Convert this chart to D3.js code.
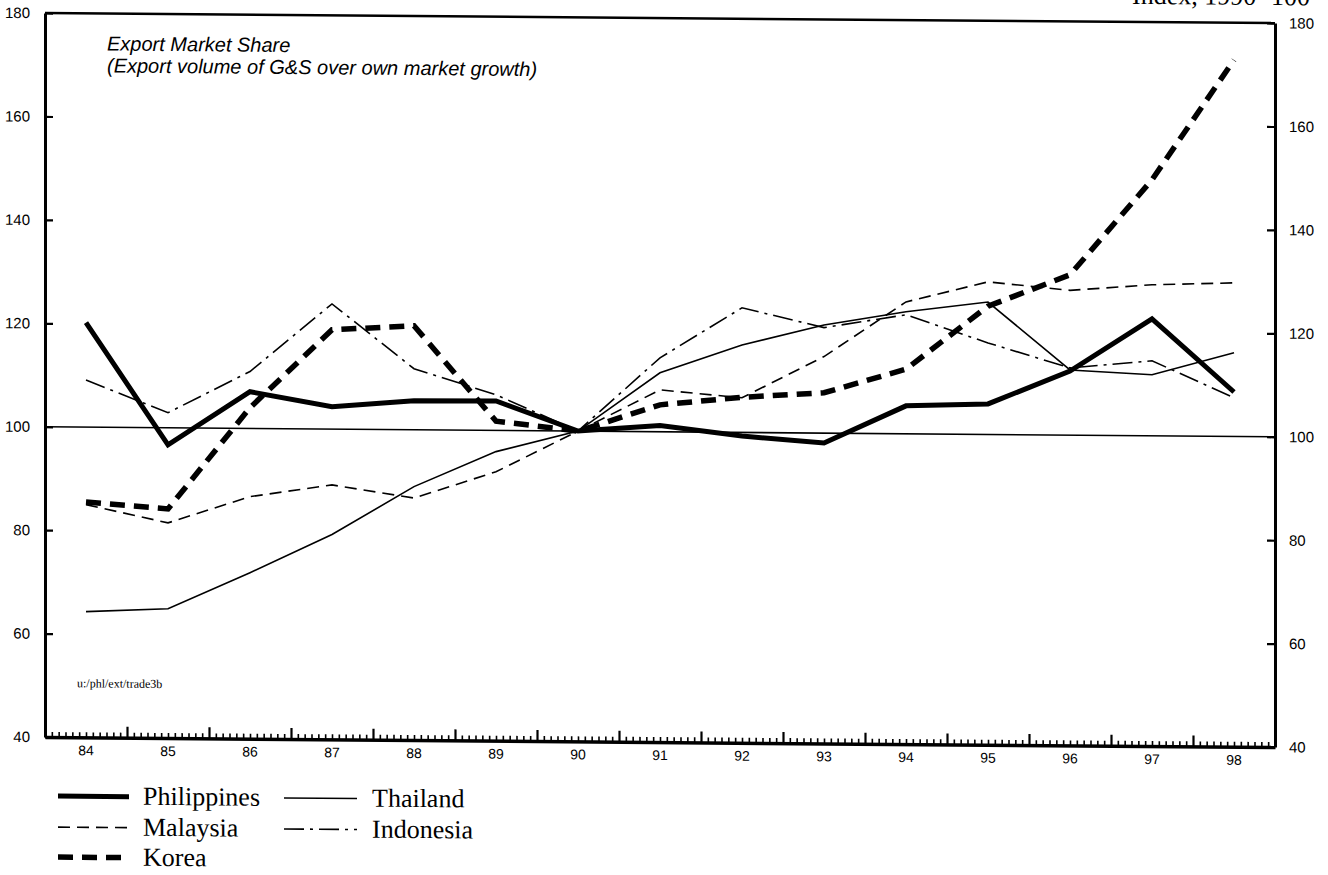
<!DOCTYPE html>
<html>
<head>
<meta charset="utf-8">
<script src="https://cdn.jsdelivr.net/npm/d3@7"></script>
<style>
  html, body { margin: 0; padding: 0; background: #fff; }
  svg { display: block; }
</style>
</head>
<body>
<svg id="chart" width="1328" height="875"></svg>
<script>
// Export market share indices, 1990 = 100
const years = ["84","85","86","87","88","89","90","91","92","93","94","95","96","97","98"];
const philippines = [120.2, 96.7, 107.1, 104.3, 105.6, 105.7, 100, 101.2, 99.3, 98.1, 105.4, 105.9, 112.4, 122.6, 108.6];
const thailand    = [64.3, 65.0, 72.1, 79.6, 89.0, 95.9, 100, 111.4, 116.9, 120.9, 123.6, 125.6, 112.6, 111.8, 116.2];
const malaysia    = [85.0, 81.6, 86.8, 89.2, 86.8, 92.0, 100, 108.1, 106.7, 114.8, 125.5, 129.5, 128.0, 129.2, 129.7];
const indonesia   = [109.1, 102.9, 111.0, 124.2, 111.8, 106.9, 100, 114.3, 124.1, 120.4, 123.0, 117.7, 113.0, 114.5, 107.5];
const korea       = [85.5, 84.3, 104.0, 119.2, 120.1, 101.8, 100, 105.2, 106.8, 107.8, 112.5, 124.8, 131.0, 149.5, 172.8];
const yTicks = [40, 60, 80, 100, 120, 140, 160, 180];

const seriesNames = ["Philippines", "Thailand", "Malaysia", "Indonesia", "Korea"];
const seriesValues = [philippines, thailand, malaysia, indonesia, korea];
const styles = {
  Philippines: { width: 5,   dash: null },
  Thailand:    { width: 1.6, dash: null },
  Malaysia:    { width: 1.6, dash: "12,7" },
  Indonesia:   { width: 1.6, dash: "20,6,3,6" },
  Korea:       { width: 5.5, dash: "15,9" }
};

const svg = d3.select("#chart");
const plotLeft = 45, plotRight = 1275, plotTop = 13, plotBottom = 737;

// slight skew of the printed sheet
const skew = Math.tan(0.47 * Math.PI / 180);
const g = svg.append("g")
  .attr("transform", `matrix(1,${skew},0,1,0,${-plotLeft * skew})`);

const x = d3.scaleBand().domain(years).range([plotLeft, plotRight]).padding(0);
const months = d3.scaleLinear().domain([0, years.length * 12]).range([plotLeft, plotRight]);
const y = d3.scaleLinear().domain([40, 180]).range([plotBottom, plotTop]);

// frame: top border
g.append("line")
  .attr("x1", plotLeft).attr("x2", plotRight)
  .attr("y1", y(180)).attr("y2", y(180))
  .attr("stroke", "#000").attr("stroke-width", 2.5);

// reference line at 100
g.append("line")
  .attr("x1", plotLeft).attr("x2", plotRight)
  .attr("y1", y(100)).attr("y2", y(100))
  .attr("stroke", "#000").attr("stroke-width", 1.6);

// left axis
const yl = g.append("g")
  .attr("transform", `translate(${plotLeft},0)`)
  .call(d3.axisLeft(y).tickValues(yTicks).tickSizeInner(-8).tickSizeOuter(0).tickPadding(15));
// right axis
const yr = g.append("g")
  .attr("transform", `translate(${plotRight},0)`)
  .call(d3.axisRight(y).tickValues(yTicks).tickSizeInner(-8).tickSizeOuter(0).tickPadding(14));

[yl, yr].forEach(a => {
  a.select(".domain").attr("stroke-width", 3);
  a.selectAll(".tick line").attr("stroke-width", 2.2);
  a.selectAll("text")
    .attr("font-family", "Liberation Sans, Arial, sans-serif")
    .attr("font-size", 15)
    .attr("fill", "#000");
});

// bottom axis: monthly minor ticks, major ticks at year boundaries
const minor = g.append("g")
  .attr("transform", `translate(0,${plotBottom})`)
  .call(d3.axisBottom(months)
    .tickValues(d3.range(0, years.length * 12 + 1))
    .tickSizeInner(-5).tickSizeOuter(0).tickFormat(""));
minor.select(".domain").attr("stroke-width", 3.5);
minor.selectAll(".tick line")
  .attr("y2", d => d % 12 === 0 ? -11 : -5)
  .attr("stroke-width", d => d % 12 === 0 ? 2.2 : 1.6);

const xa = g.append("g")
  .attr("transform", `translate(0,${plotBottom})`)
  .call(d3.axisBottom(x).tickSize(0).tickPadding(8));
xa.select(".domain").remove();
xa.selectAll("text")
  .attr("font-family", "Liberation Sans, Arial, sans-serif")
  .attr("font-size", 14)
  .attr("fill", "#000");

// series
const line = d3.line()
  .x((d, i) => x(years[i]) + x.bandwidth() / 2)
  .y(d => y(d));

seriesNames.forEach((name, k) => {
  const st = styles[name];
  g.append("path")
    .datum(seriesValues[k])
    .attr("d", line)
    .attr("fill", "none")
    .attr("stroke", "#000")
    .attr("stroke-width", st.width)
    .attr("stroke-linejoin", "miter")
    .attr("stroke-dasharray", st.dash);
});

// title inside the frame
const title = g.append("text")
  .attr("font-family", "Liberation Sans, Arial, sans-serif")
  .attr("font-style", "italic")
  .attr("font-size", 20)
  .attr("fill", "#000");
title.append("tspan").attr("x", 107).attr("y", 50).text("Export Market Share");
title.append("tspan").attr("x", 107).attr("y", 72).text("(Export volume of G&S over own market growth)");

// unit note, top right (runs off the top of the sheet)
g.append("text")
  .attr("x", 1310).attr("y", -5)
  .attr("text-anchor", "end")
  .attr("font-family", "Liberation Serif, Times New Roman, serif")
  .attr("font-size", 26)
  .attr("fill", "#000")
  .text("Index, 1990=100");

// file path note
g.append("text")
  .attr("x", 77).attr("y", 687)
  .attr("font-family", "Liberation Serif, Times New Roman, serif")
  .attr("font-size", 12)
  .attr("fill", "#000")
  .text("u:/phl/ext/trade3b");

// legend
const legendItems = [
  { name: "Philippines", col: 0, row: 0 },
  { name: "Thailand",    col: 1, row: 0 },
  { name: "Malaysia",    col: 0, row: 1 },
  { name: "Indonesia",   col: 1, row: 1 },
  { name: "Korea",       col: 0, row: 2 }
];
const legX = [{ x1: 58, x2: 129, tx: 143 }, { x1: 284, x2: 357, tx: 372 }];
const legY = [796, 827, 857];
const lg = g.append("g");
legendItems.forEach(it => {
  const st = styles[it.name];
  const c = legX[it.col];
  lg.append("line")
    .attr("x1", c.x1).attr("x2", c.x2)
    .attr("y1", legY[it.row]).attr("y2", legY[it.row])
    .attr("stroke", "#000")
    .attr("stroke-width", st.width)
    .attr("stroke-dasharray", st.dash);
  lg.append("text")
    .attr("x", c.tx).attr("y", legY[it.row] + 8)
    .attr("font-family", "Liberation Serif, Times New Roman, serif")
    .attr("font-size", 26)
    .attr("fill", "#000")
    .text(it.name);
});
</script>
</body>
</html>
